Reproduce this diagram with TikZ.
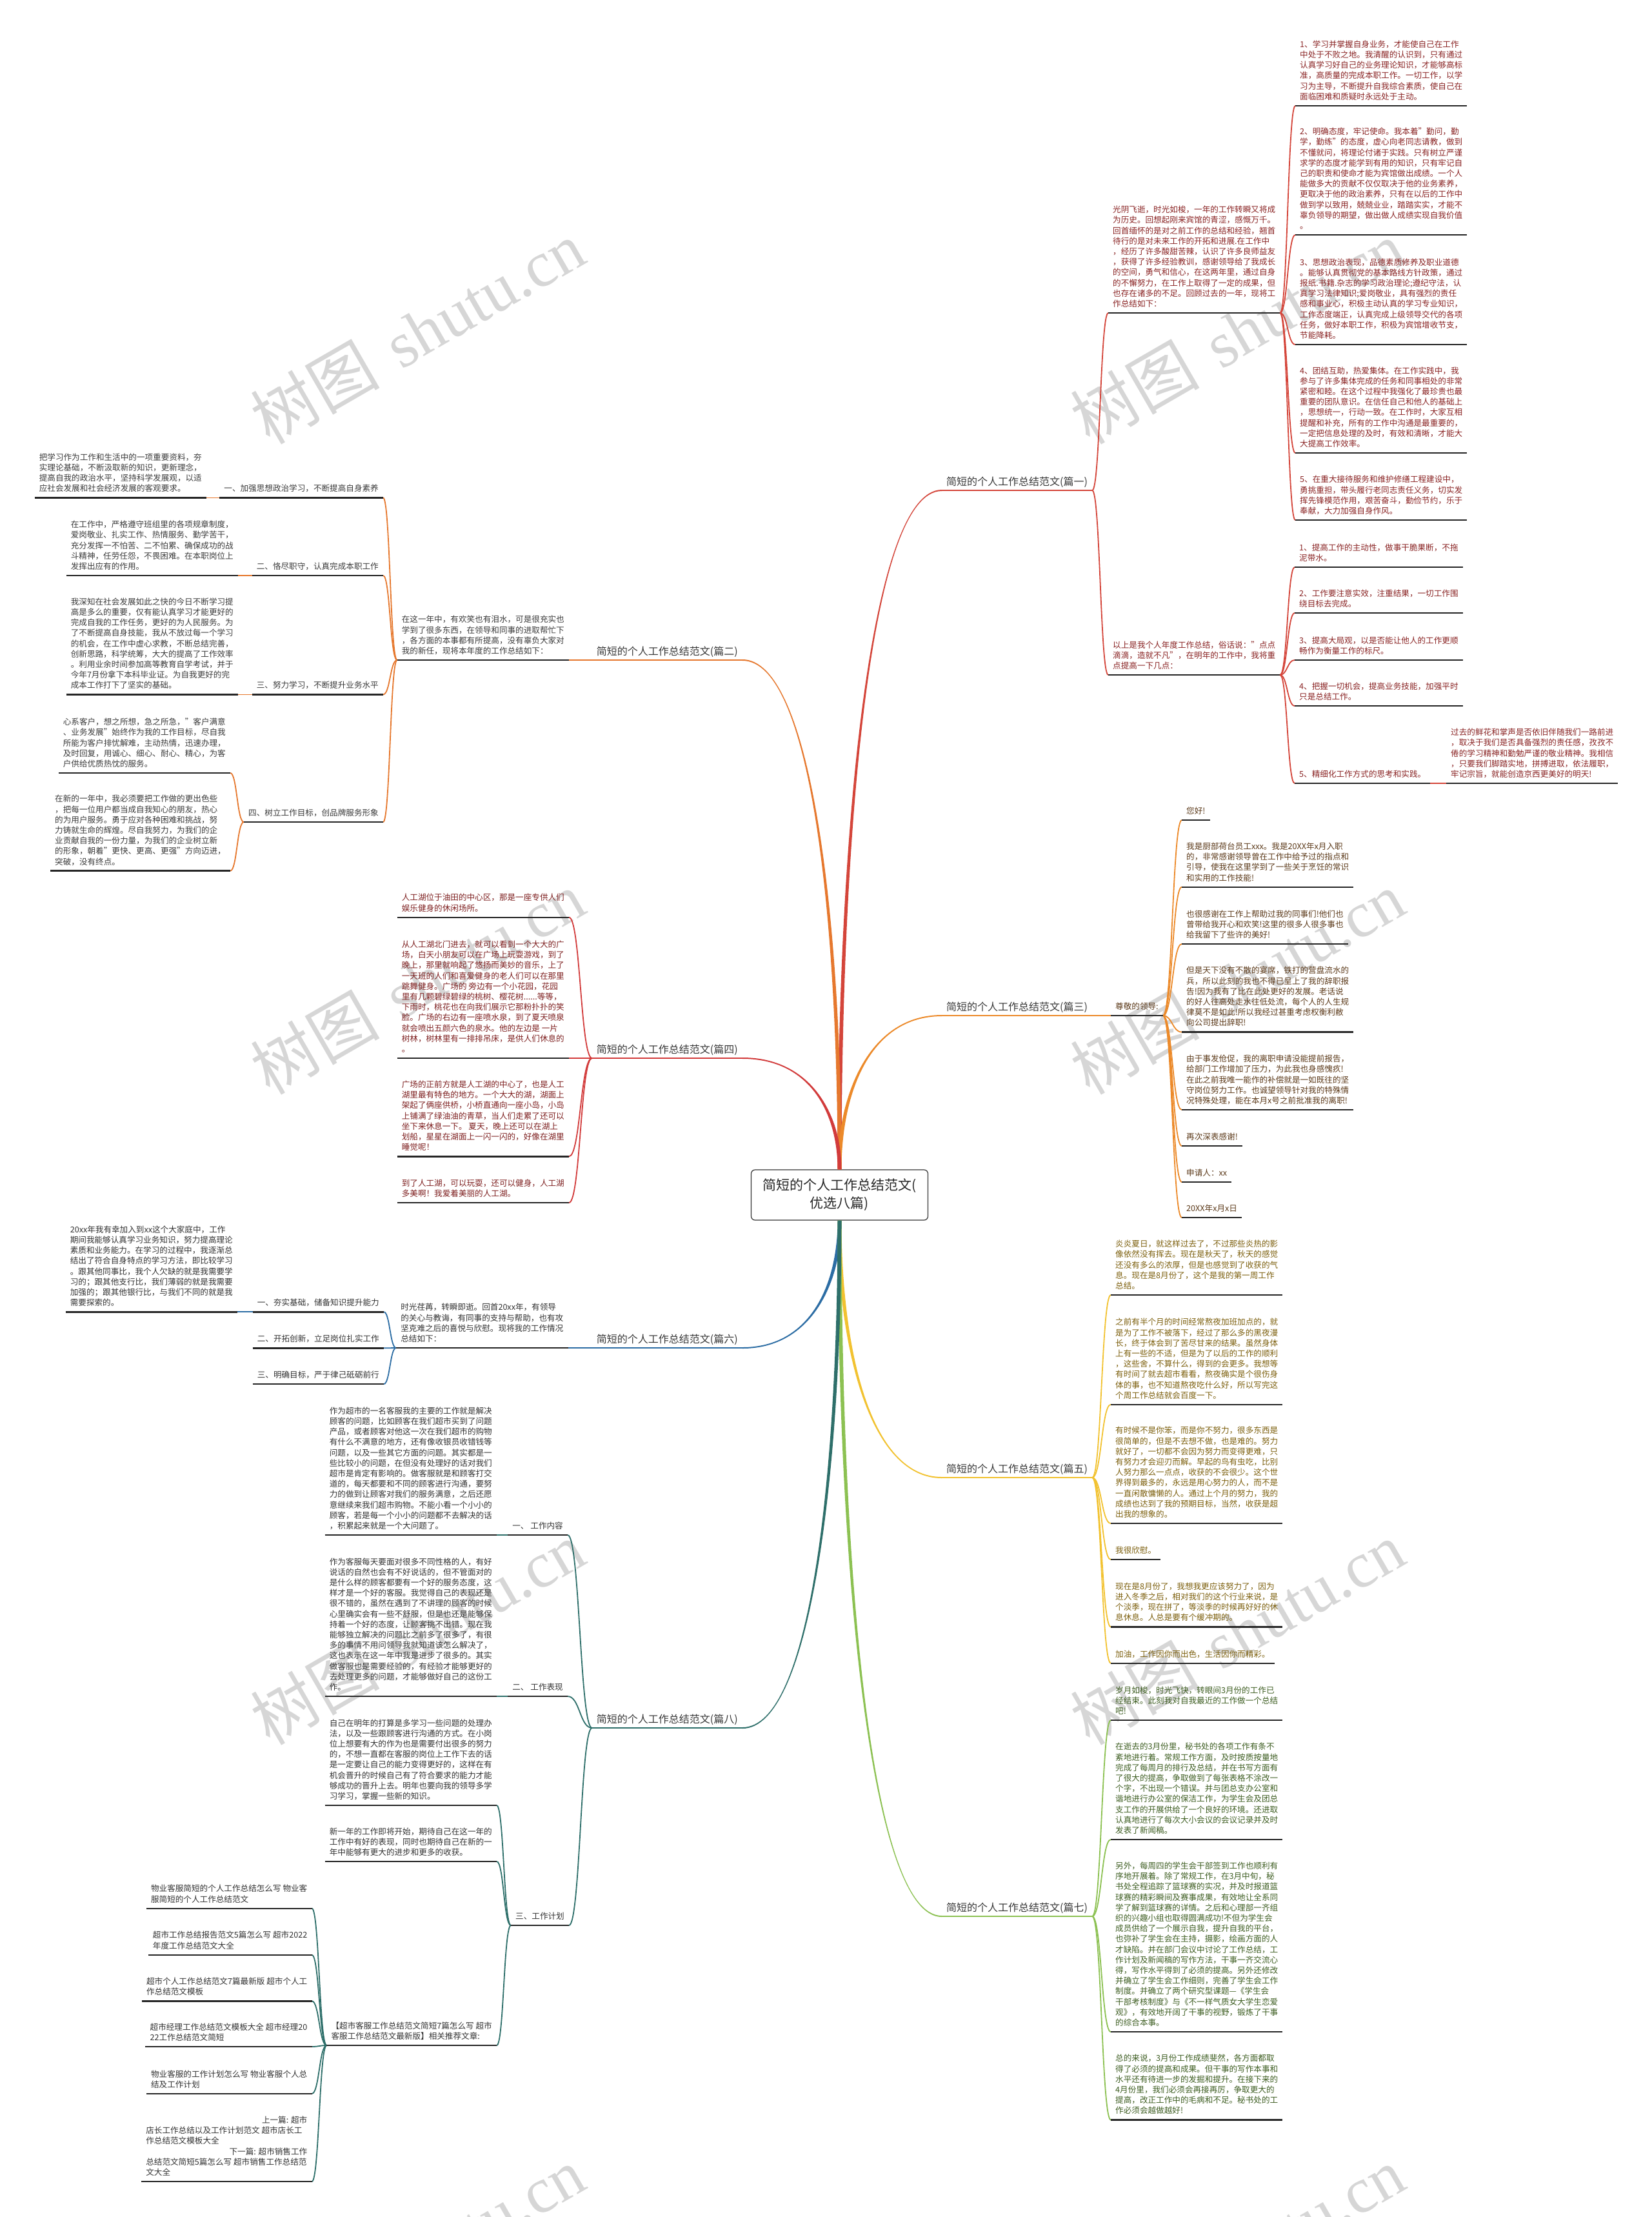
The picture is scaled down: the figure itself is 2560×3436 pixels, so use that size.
\documentclass[tikz,border=0pt]{standalone}
\usepackage{fontspec}
\setmainfont{Noto Sans CJK SC}
\newfontfamily\wmlat{Liberation Serif}
\usetikzlibrary{calc}
\definecolor{br1}{HTML}{D4453A}\definecolor{tc1}{HTML}{8A2424}
\definecolor{br2}{HTML}{E6782E}\definecolor{tc2}{HTML}{3B3B3B}
\definecolor{br3}{HTML}{EC8A2A}\definecolor{tc3}{HTML}{5C3A1A}
\definecolor{br4}{HTML}{D23B3B}\definecolor{tc4}{HTML}{7E2020}
\definecolor{br5}{HTML}{F2C230}\definecolor{tc5}{HTML}{7D600E}
\definecolor{br6}{HTML}{2C6DA4}\definecolor{tc6}{HTML}{333333}
\definecolor{br7}{HTML}{8CC152}\definecolor{tc7}{HTML}{3E5E22}
\definecolor{br8}{HTML}{2E6F6A}\definecolor{tc8}{HTML}{333333}
\newcommand\bodyf{\fontsize{12.6pt}{16.2pt}\selectfont}
\newcommand\labf{\fontsize{16pt}{19pt}\selectfont}
\newcommand\rootf{\fontsize{21pt}{28pt}\selectfont}
\newcommand\wmf{\fontsize{100pt}{110pt}\selectfont}
\newcommand\cn[3]{\draw[line width=1.8pt,#1] (#2) .. controls ($(#2)!.5!(#2 -| #3)$) and ($(#3)!.5!(#3 -| #2)$) .. (#3);}
\newcommand\trunk[4]{%
 \fill[#3] let \p1=(#1), \p2=(#2) in
  ({\x1-3pt},\y1) .. controls ({\x1-3pt},{0.5*(\y1)+0.5*(\y2)}) and ({0.7*(\x1)+0.3*(\x2)},{\y2+(#4)}) .. (\x2,{\y2+(#4)})
  -- (\x2,{\y2-(#4)}) .. controls ({0.7*(\x1)+0.3*(\x2)},{\y2-(#4)}) and ({\x1+3pt},{0.5*(\y1)+0.5*(\y2)}) .. ({\x1+3pt},\y1) -- cycle;}
\tikzset{
 uline/.style={line width=2.4pt, draw=black!85},
 body/.style={font=\bodyf, align=left, inner xsep=7pt, inner ysep=4.5pt, text depth=4.9pt},
 lab/.style={font=\labf, inner xsep=7pt, inner ysep=3pt, text depth=4pt, text=black!78},
 onright/.style={anchor=south west}, onleft/.style={anchor=south east},
 tx1/.style={text=tc1},tx2/.style={text=tc2},tx3/.style={text=tc3},tx4/.style={text=tc4},
 tx5/.style={text=tc5},tx6/.style={text=tc6},tx7/.style={text=tc7},tx8/.style={text=tc8},
 wm/.style={rotate=30, text=black!16, font=\wmf, inner sep=0pt}
}
\begin{document}
\begin{tikzpicture}[x=1pt,y=-1pt]
\useasboundingbox (0,0) rectangle (2560,3436);
\fill[white] (0,0) rectangle (2560,3436);
% watermark
\foreach \wx/\wn in {647/a,1918/b} \foreach \wy/\wk in {515/1,1523/2,2531/3,3500/4}
  \node[wm] (wm\wn\wk) at (\wx,\wy) {树图\hspace{0.35em}{\wmlat shutu.cn}};
% root
\node[draw=black!80, fill=white, line width=1.2pt, rounded corners=6pt, minimum width=274pt, minimum height=78pt, font=\rootf, align=center, text=black!85, inner sep=4pt] (root) at (1301.5,1852) {简短的个人工作总结范文(\\优选八篇)};
% branch labels
\node[lab,onright] (b1) at (1460,760) {简短的个人工作总结范文(篇一)};
\node[lab,onleft] (b2) at (1151,1023) {简短的个人工作总结范文(篇二)};
\node[lab,onright] (b3) at (1460,1574) {简短的个人工作总结范文(篇三)};
\node[lab,onleft] (b4) at (1151,1640) {简短的个人工作总结范文(篇四)};
\node[lab,onright] (b5) at (1460,2290) {简短的个人工作总结范文(篇五)};
\node[lab,onleft] (b6) at (1151,2089) {简短的个人工作总结范文(篇六)};
\node[lab,onright] (b7) at (1460,2970) {简短的个人工作总结范文(篇七)};
\node[lab,onleft] (b8) at (1151,2678) {简短的个人工作总结范文(篇八)};
% ---------------- 篇一
\node[body,tx1,onright] (n1a) at (1718,485) {光阴飞逝，时光如梭，一年的工作转瞬又将成\\为历史。回想起刚来宾馆的青涩，感慨万千。\\回首缅怀的是对之前工作的总结和经验，翘首\\待行的是对未来工作的开拓和进展.在工作中\\，经历了许多酸甜苦辣，认识了许多良师益友\\，获得了许多经验教训，感谢领导给了我成长\\的空间，勇气和信心，在这两年里，通过自身\\的不懈努力，在工作上取得了一定的成果，但\\也存在诸多的不足。回顾过去的一年，现将工\\作总结如下：};
\node[body,tx1,onright] (n1b) at (1718,1046) {以上是我个人年度工作总结，俗话说："点点\\滴滴，造就不凡"，在明年的工作中，我将重\\点提高一下几点：};
\node[body,tx1,onright] (i1) at (2008,164) {1、学习并掌握自身业务，才能使自己在工作\\中处于不败之地。我清醒的认识到，只有通过\\认真学习好自己的业务理论知识，才能够高标\\准，高质量的完成本职工作。一切工作，以学\\习为主导，不断提升自我综合素质，使自己在\\面临困难和质疑时永远处于主动。};
\node[body,tx1,onright] (i2) at (2008,364) {2、明确态度，牢记使命。我本着"勤问，勤\\学，勤练"的态度，虚心向老同志请教，做到\\不懂就问，将理论付诸于实践。只有树立严谨\\求学的态度才能学到有用的知识，只有牢记自\\己的职责和使命才能为宾馆做出成绩。一个人\\能做多大的贡献不仅仅取决于他的业务素养，\\更取决于他的政治素养，只有在以后的工作中\\做到学以致用，兢兢业业，踏踏实实，才能不\\辜负领导的期望，做出做人成绩实现自我价值\\。};
\node[body,tx1,onright] (i3) at (2008,534) {3、思想政治表现，品德素质修养及职业道德\\。能够认真贯彻党的基本路线方针政策，通过\\报纸.书籍.杂志的学习政治理论;遵纪守法，认\\真学习法律知识;爱岗敬业，具有强烈的责任\\感和事业心，积极主动认真的学习专业知识，\\工作态度端正，认真完成上级领导交代的各项\\任务，做好本职工作，积极为宾馆增收节支，\\节能降耗。};
\node[body,tx1,onright] (i4) at (2008,702) {4、团结互助，热爱集体。在工作实践中，我\\参与了许多集体完成的任务和同事相处的非常\\紧密和睦。在这个过程中我强化了最珍贵也最\\重要的团队意识。在信任自己和他人的基础上\\，思想统一，行动一致。在工作时，大家互相\\提醒和补充，所有的工作中沟通是最重要的，\\一定把信息处理的及时，有效和清晰，才能大\\大提高工作效率。};
\node[body,tx1,onright] (i5) at (2008,806) {5、在重大接待服务和维护修缮工程建设中，\\勇挑重担，带头履行老同志责任义务，切实发\\挥先锋模范作用，艰苦奋斗，勤俭节约，乐于\\奉献，大力加强自身作风。};
\node[body,tx1,onright] (j1) at (2007,879) {1、提高工作的主动性，做事干脆果断，不拖\\泥带水。};
\node[body,tx1,onright] (j2) at (2007,950) {2、工作要注意实效，注重结果，一切工作围\\绕目标去完成。};
\node[body,tx1,onright] (j3) at (2007,1023) {3、提高大局观，以是否能让他人的工作更顺\\畅作为衡量工作的标尺。};
\node[body,tx1,onright] (j4) at (2007,1094) {4、把握一切机会，提高业务技能，加强平时\\只是总结工作。};
\node[body,tx1,onright] (j5) at (2007,1214) {5、精细化工作方式的思考和实践。};
\node[body,tx1,onright] (k1) at (2242,1214) {过去的鲜花和掌声是否依旧伴随我们一路前进\\，取决于我们是否具备强烈的责任感，孜孜不\\倦的学习精神和勤勉严谨的敬业精神。我相信\\，只要我们脚踏实地，拼搏进取，依法履职，\\牢记宗旨，就能创造京西更美好的明天!};
% ---------------- 篇二
\node[body,tx2,onleft] (n2) at (882,1023) {在这一年中，有欢笑也有泪水，可是很充实也\\学到了很多东西，在领导和同事的进取帮忙下\\，各方面的本事都有所提高，没有辜负大家对\\我的新任，现将本年度的工作总结如下：};
\node[body,tx2,onleft] (q1) at (594,771.5) {一、加强思想政治学习，不断提高自身素养};
\node[body,tx2,onleft] (q1x) at (320,771.5) {把学习作为工作和生活中的一项重要资料，夯\\实理论基础，不断汲取新的知识，更新理念，\\提高自我的政治水平，坚持科学发展观，以适\\应社会发展和社会经济发展的客观要求。};
\node[body,tx2,onleft] (q2) at (594,892) {二、恪尽职守，认真完成本职工作};
\node[body,tx2,onleft] (q2x) at (369,892) {在工作中，严格遵守班组里的各项规章制度，\\爱岗敬业、扎实工作、热情服务、勤学苦干，\\充分发挥一不怕苦、二不怕累、确保成功的战\\斗精神，任劳任怨，不畏困难。在本职岗位上\\发挥出应有的作用。};
\node[body,tx2,onleft] (q3) at (594,1076.4) {三、努力学习，不断提升业务水平};
\node[body,tx2,onleft] (q3x) at (369,1076.4) {我深知在社会发展如此之快的今日不断学习提\\高是多么的重要，仅有能认真学习才能更好的\\完成自我的工作任务，更好的为人民服务。为\\了不断提高自身技能，我从不放过每一个学习\\的机会，在工作中虚心求教，不断总结完善，\\创新思路，科学统筹，大大的提高了工作效率\\。利用业余时间参加高等教育自学考试，并于\\今年7月份拿下本科毕业证。为自我更好的完\\成本工作打下了坚实的基础。};
\node[body,tx2,onleft] (q4) at (594,1274) {四、树立工作目标，创品牌服务形象};
\node[body,tx2,onleft] (q4x) at (357,1198) {心系客户，想之所想，急之所急，"客户满意\\、业务发展"始终作为我的工作目标，尽自我\\所能为客户排忧解难，主动热情，迅速办理，\\及时回复，用诚心、细心、耐心、精心，为客\\户供给优质热忱的服务。};
\node[body,tx2,onleft] (q4y) at (357,1349.6) {在新的一年中，我必须要把工作做的更出色些\\，把每一位用户都当成自我知心的朋友，热心\\的为用户服务。勇于应对各种困难和挑战，努\\力铸就生命的辉煌。尽自我努力，为我们的企\\业贡献自我的一份力量，为我们的企业树立新\\的形象，朝着"更快、更高、更强"方向迈进，\\突破，没有终点。};
% ---------------- 篇三
\node[body,tx3,onright] (n3) at (1722,1574) {尊敬的领导:};
\node[body,tx3,onright] (s1) at (1832,1271) {您好!};
\node[body,tx3,onright] (s2) at (1832,1374.7) {我是厨部荷台员工xxx。我是20XX年x月入职\\的，非常感谢领导曾在工作中给予过的指点和\\引导，使我在这里学到了一些关于烹饪的常识\\和实用的工作技能!};
\node[body,tx3,onright] (s3) at (1832,1463) {也很感谢在工作上帮助过我的同事们!他们也\\曾带给我开心和欢笑!这里的很多人很多事也\\给我留下了些许的美好!};
\node[body,tx3,onright] (s4) at (1832,1599.5) {但是天下没有不散的宴席，铁打的营盘流水的\\兵，所以此刻的我也不得已呈上了我的辞职报\\告!因为我有了比在此处更好的发展。老话说\\的好人往高处走水往低处流，每个人的人生规\\律莫不是如此!所以我经过甚重考虑权衡利敝\\向公司提出辞职!};
\node[body,tx3,onright] (s5) at (1832,1720) {由于事发伧促，我的离职申请没能提前报告，\\给部门工作增加了压力，为此我也身感愧疚!\\在此之前我唯一能作的补偿就是一如既往的坚\\守岗位努力工作。也诚望领导针对我的特殊情\\况特殊处理，能在本月x号之前批准我的离职!};
\node[body,tx3,onright] (s6) at (1832,1776) {再次深表感谢!};
\node[body,tx3,onright] (s7) at (1832,1832) {申请人：xx};
\node[body,tx3,onright] (s8) at (1832,1887) {20XX年x月x日};
% ---------------- 篇四
\node[body,tx4,onleft] (f1) at (882,1421.7) {人工湖位于油田的中心区，那是一座专供人们\\娱乐健身的休闲场所。};
\node[body,tx4,onleft] (f2) at (882,1640) {从人工湖北门进去，就可以看到一个大大的广\\场，白天小朋友可以在广场上玩耍游戏，到了\\晚上，那里就响起了悠扬而美妙的音乐，上了\\一天班的人们和喜爱健身的老人们可以在那里\\跳舞健身。广场的 旁边有一个小花园，花园\\里有几颗碧绿碧绿的桃树、樱花树......等等，\\下雨时，桃花也在向我们展示它那粉扑扑的笑\\脸。广场的右边有一座喷水泉，到了夏天喷泉\\就会喷出五颜六色的泉水。他的左边是 一片\\树林，树林里有一排排吊床，是供人们休息的\\。};
\node[body,tx4,onleft] (f3) at (882,1792.3) {广场的正前方就是人工湖的中心了，也是人工\\湖里最有特色的地方。一个大大的湖，湖面上\\架起了俩座供桥，小桥直通向一座小岛，小岛\\上铺满了绿油油的青草，当人们走累了还可以\\坐下来休息一下。 夏天，晚上还可以在湖上\\划船，星星在湖面上一闪一闪的，好像在湖里\\睡觉呢！};
\node[body,tx4,onleft] (f4) at (882,1864) {到了人工湖，可以玩耍，还可以健身，人工湖\\多美啊！我爱着美丽的人工湖。};
% ---------------- 篇五
\node[body,tx5,onright] (y1) at (1722,2007) {炎炎夏日，就这样过去了，不过那些炎热的影\\像依然没有挥去。现在是秋天了，秋天的感觉\\还没有多么的浓厚，但是也感觉到了收获的气\\息。现在是8月份了，这个是我的第一周工作\\总结。};
\node[body,tx5,onright] (y2) at (1722,2176.8) {之前有半个月的时间经常熬夜加班加点的，就\\是为了工作不被落下，经过了那么多的黑夜漫\\长，终于体会到了苦尽甘来的结果。虽然身体\\上有一些的不适，但是为了以后的工作的顺利\\，这些舍，不算什么，得到的会更多。我想等\\有时间了就去超市看看，熬夜确实是个很伤身\\体的事，也不知道熬夜吃什么好，所以写完这\\个周工作总结就会百度一下。};
\node[body,tx5,onright] (y3) at (1722,2361) {有时候不是你笨，而是你不努力，很多东西是\\很简单的，但是不去想不做，也是难的。努力\\就好了，一切都不会因为努力而变得更难，只\\有努力才会迎刃而解。早起的鸟有虫吃，比别\\人努力那么一点点，收获的不会很少。这个世\\界得到最多的，永远是用心努力的人，而不是\\一直闲散慵懒的人。通过上个月的努力，我的\\成绩也达到了我的预期目标，当然，收获是超\\出我的想象的。};
\node[body,tx5,onright] (y4) at (1722,2417) {我很欣慰。};
\node[body,tx5,onright] (y5) at (1722,2521.4) {现在是8月份了，我想我更应该努力了，因为\\进入冬季之后，相对我们的这个行业来说，是\\个淡季，现在拼了，等淡季的时候再好好的休\\息休息。人总是要有个缓冲期的。};
\node[body,tx5,onright] (y6) at (1722,2577.7) {加油，工作因你而出色，生活因你而精彩。};
% ---------------- 篇六
\node[body,tx6,onleft] (n6) at (880.5,2089) {时光荏苒，转瞬即逝。回首20xx年，有领导\\的关心与教诲，有同事的支持与帮助，也有攻\\坚克难之后的喜悦与欣慰。现将我的工作情况\\总结如下：};
\node[body,tx6,onleft] (u1) at (595,2033.3) {一、夯实基础，储备知识提升能力};
\node[body,tx6,onleft] (v1) at (368,2033.3) {20xx年我有幸加入到xx这个大家庭中，工作\\期间我能够认真学习业务知识，努力提高理论\\素质和业务能力。在学习的过程中，我逐渐总\\结出了符合自身特点的学习方法，即比较学习\\。跟其他同事比，我个人欠缺的就是我需要学\\习的；跟其他支行比，我们薄弱的就是我需要\\加强的；跟其他银行比，与我们不同的就是我\\需要探索的。};
\node[body,tx6,onleft] (u2) at (595,2089.3) {二、开拓创新，立足岗位扎实工作};
\node[body,tx6,onleft] (u3) at (595,2145) {三、明确目标，严于律己砥砺前行};
% ---------------- 篇七
\node[body,tx7,onright] (g1) at (1722,2666) {岁月如梭，时光飞快，转眼间3月份的工作已\\经结束。此刻我对自我最近的工作做一个总结\\吧!};
\node[body,tx7,onright] (g2) at (1722,2851) {在逝去的3月份里，秘书处的各项工作有条不\\紊地进行着。常规工作方面，及时按质按量地\\完成了每周月的排行及总结，并在书写方面有\\了很大的提高，争取做到了每张表格不涂改一\\个字，不出现一个错误。并与团总支办公室和\\谐地进行办公室的保洁工作，为学生会及团总\\支工作的开展供给了一个良好的环境。还进取\\认真地进行了每次大小会议的会议记录并及时\\发表了新闻稿。};
\node[body,tx7,onright] (g3) at (1722,3149) {另外，每周四的学生会干部签到工作也顺利有\\序地开展着。除了常规工作，在3月中旬，秘\\书处全程追踪了篮球赛的实况，并及时报道篮\\球赛的精彩瞬间及赛事成果，有效地让全系同\\学了解到篮球赛的详情。之后和心理部一齐组\\织的兴趣小组也取得圆满成功!不但为学生会\\成员供给了一个展示自我，提升自我的平台，\\也弥补了学生会在主持，摄影，绘画方面的人\\才缺陷。并在部门会议中讨论了工作总结，工\\作计划及新闻稿的写作方法，干事一齐交流心\\得，写作水平得到了必须的提高。另外还修改\\并确立了学生会工作细则，完善了学生会工作\\制度。并确立了两个研究型课题—《学生会\\干部考核制度》与《不一样气质女大学生恋爱\\观》，有效地开阔了干事的视野，锻炼了干事\\的综合本事。};
\node[body,tx7,onright] (g4) at (1722,3285.5) {总的来说，3月份工作成绩斐然，各方面都取\\得了必须的提高和成果。但干事的写作本事和\\水平还有待进一步的发掘和提升。在接下来的\\4月份里，我们必须会再接再厉，争取更大的\\提高，改正工作中的毛病和不足。秘书处的工\\作必须会越做越好!};
% ---------------- 篇八
\node[body,tx8,onleft] (h1) at (880,2379) {一、 工作内容};
\node[body,tx8,onleft] (e1) at (770,2379) {作为超市的一名客服我的主要的工作就是解决\\顾客的问题，比如顾客在我们超市买到了问题\\产品，或者顾客对他这一次在我们超市的购物\\有什么不满意的地方，还有像收银员收错钱等\\问题，以及一些其它方面的问题。其实都是一\\些比较小的问题，在但没有处理好的话对我们\\超市是肯定有影响的。做客服就是和顾客打交\\道的，每天都要和不同的顾客进行沟通，要努\\力的做到让顾客对我们的服务满意，之后还愿\\意继续来我们超市购物。不能小看一个小小的\\顾客，若是每一个小小的问题都不去解决的话\\，积累起来就是一个大问题了。};
\node[body,tx8,onleft] (h2) at (880,2629) {二、 工作表现};
\node[body,tx8,onleft] (e2) at (770,2629) {作为客服每天要面对很多不同性格的人，有好\\说话的自然也会有不好说话的，但不管面对的\\是什么样的顾客都要有一个好的服务态度，这\\样才是一个好的客服。我觉得自己的表现还是\\很不错的，虽然在遇到了不讲理的顾客的时候\\心里确实会有一些不舒服，但是也还是能够保\\持着一个好的态度，让顾客挑不出错。现在我\\能够独立解决的问题比之前多了很多了，有很\\多的事情不用问领导我就知道该怎么解决了，\\这也表示在这一年中我是进步了很多的。其实\\做客服也是需要经验的，有经验才能够更好的\\去处理更多的问题，才能够做好自己的这份工\\作。};
\node[body,tx8,onleft] (h3) at (882,2984) {三、工作计划};
\node[body,tx8,onleft] (e3a) at (770,2798) {自己在明年的打算是多学习一些问题的处理办\\法，以及一些跟顾客进行沟通的方式。在小岗\\位上想要有大的作为也是需要付出很多的努力\\的，不想一直都在客服的岗位上工作下去的话\\是一定要让自己的能力变得更好的，这样在有\\机会晋升的时候自己有了符合要求的能力才能\\够成功的晋升上去。明年也要向我的领导多学\\习学习，掌握一些新的知识。};
\node[body,tx8,onleft] (e3b) at (770,2885) {新一年的工作即将开始，期待自己在这一年的\\工作中有好的表现，同时也期待自己在新的一\\年中能够有更大的进步和更多的收获。};
\node[body,tx8,onleft] (h4) at (770,3170) {【超市客服工作总结范文简短7篇怎么写 超市\\客服工作总结范文最新版】相关推荐文章:};
\node[body,tx8,onleft] (l1) at (483.5,2957.7) {物业客服简短的个人工作总结怎么写 物业客\\服简短的个人工作总结范文};
\node[body,tx8,onleft] (l2) at (483.5,3029.7) {超市工作总结报告范文5篇怎么写 超市2022\\年度工作总结范文大全};
\node[body,tx8,onleft] (l3) at (483.5,3101.3) {超市个人工作总结范文7篇最新版 超市个人工\\作总结范文模板};
\node[body,tx8,onleft] (l4) at (483.5,3172) {超市经理工作总结范文模板大全 超市经理20\\22工作总结范文简短};
\node[body,tx8,onleft] (l5) at (483.5,3244.8) {物业客服的工作计划怎么写 物业客服个人总\\结及工作计划};
\node[body,tx8,onleft] (l6) at (483.5,3381) {\makebox[250pt][r]{上一篇: 超市}\\店长工作总结以及工作计划范文 超市店长工\\作总结范文模板大全\\\makebox[250pt][r]{下一篇: 超市销售工作}\\总结范文简短5篇怎么写 超市销售工作总结范\\文大全};
% ---------------- trunks
\trunk{root.north}{b1.south west}{br1}{1pt}
\trunk{root.north}{b2.south east}{br2}{-1pt}
\trunk{root.north}{b3.south west}{br3}{1pt}
\trunk{root.north}{b4.south east}{br4}{-1pt}
\trunk{root.south}{b5.south west}{br5}{-1pt}
\trunk{root.south}{b6.south east}{br6}{1pt}
\trunk{root.south}{b7.south west}{br7}{-1pt}
\trunk{root.south}{b8.south east}{br8}{1pt}
% ---------------- connectors
\cn{br1}{b1.south east}{n1a.south west}
\cn{br1}{b1.south east}{n1b.south west}
\foreach \m in {i1,i2,i3,i4,i5} {\cn{br1}{n1a.south east}{\m.south west}}
\foreach \m in {j1,j2,j3,j4,j5} {\cn{br1}{n1b.south east}{\m.south west}}
\cn{br1}{j5.south east}{k1.south west}
\cn{br2}{b2.south west}{n2.south east}
\foreach \m in {q1,q2,q3,q4} {\cn{br2}{n2.south west}{\m.south east}}
\cn{br2}{q1.south west}{q1x.south east}
\cn{br2}{q2.south west}{q2x.south east}
\cn{br2}{q3.south west}{q3x.south east}
\cn{br2}{q4.south west}{q4x.south east}
\cn{br2}{q4.south west}{q4y.south east}
\cn{br3}{b3.south east}{n3.south west}
\foreach \m in {s1,s2,s3,s4,s5,s6,s7,s8} {\cn{br3}{n3.south east}{\m.south west}}
\foreach \m in {f1,f2,f3,f4} {\cn{br4}{b4.south west}{\m.south east}}
\foreach \m in {y1,y2,y3,y4,y5,y6} {\cn{br5}{b5.south east}{\m.south west}}
\cn{br6}{b6.south west}{n6.south east}
\foreach \m in {u1,u2,u3} {\cn{br6}{n6.south west}{\m.south east}}
\cn{br6}{u1.south west}{v1.south east}
\foreach \m in {g1,g2,g3,g4} {\cn{br7}{b7.south east}{\m.south west}}
\foreach \m in {h1,h2,h3} {\cn{br8}{b8.south west}{\m.south east}}
\cn{br8}{h1.south west}{e1.south east}
\cn{br8}{h2.south west}{e2.south east}
\foreach \m in {e3a,e3b,h4} {\cn{br8}{h3.south west}{\m.south east}}
\foreach \m in {l1,l2,l3,l4,l5,l6} {\cn{br8}{h4.south west}{\m.south east}}
% ---------------- underlines
\foreach \n/\c in {b1/br1,b2/br2,b3/br3,b4/br4,b5/br5,b6/br6,b7/br7,b8/br8}
  {\draw[line width=2pt,\c] (\n.south west) -- (\n.south east);}
\foreach \n in {n1a,n1b,i1,i2,i3,i4,i5,j1,j2,j3,j4,j5,k1,n2,q1,q1x,q2,q2x,q3,q3x,q4,q4x,q4y,n3,s1,s2,s3,s4,s5,s6,s7,s8,f1,f2,f3,f4,y1,y2,y3,y4,y5,y6,n6,u1,v1,u2,u3,g1,g2,g3,g4,h1,e1,h2,e2,h3,e3a,e3b,h4,l1,l2,l3,l4,l5,l6}
  {\draw[uline] (\n.south west) -- (\n.south east);}
\end{tikzpicture}
\end{document}
